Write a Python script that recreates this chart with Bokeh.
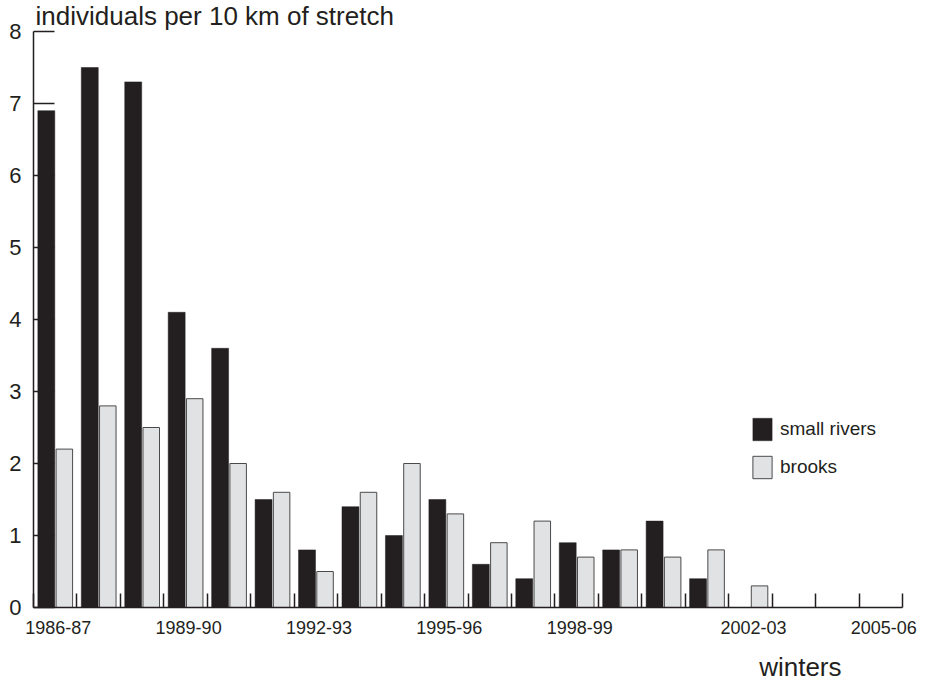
from bokeh.plotting import figure
from bokeh.models import FixedTicker, Legend, LegendItem, Range1d, ColumnDataSource, Title
from bokeh.core.properties import value
from bokeh.embed import file_html
from bokeh.resources import INLINE

# ---- data ----
winters = ["1986-87", "1987-88", "1988-89", "1989-90", "1990-91", "1991-92", "1992-93",
           "1993-94", "1994-95", "1995-96", "1996-97", "1997-98", "1998-99", "1999-00",
           "2000-01", "2001-02", "2002-03", "2003-04", "2004-05", "2005-06"]
small_rivers = [6.9, 7.5, 7.3, 4.1, 3.6, 1.5, 0.8, 1.4, 1.0, 1.5,
                0.6, 0.4, 0.9, 0.8, 1.2, 0.4, 0.0, 0.0, 0.0, 0.0]
brooks = [2.2, 2.8, 2.5, 2.9, 2.0, 1.6, 0.5, 1.6, 2.0, 1.3,
          0.9, 1.2, 0.7, 0.8, 0.7, 0.8, 0.3, 0.0, 0.0, 0.0]
labeled_winters = ["1986-87", "1989-90", "1992-93", "1995-96", "1998-99", "2002-03", "2005-06"]
y_ticks = [0, 1, 2, 3, 4, 5, 6, 7, 8]
y_max = 8

series_names = ["small rivers", "brooks"]
y_title = "individuals per 10 km of stretch"
x_title = "winters"

# ---- styling ----
FONT = "Liberation Sans"
INK = "#231f20"
BLACK_FILL = "#231f20"
GRAY_FILL = "#e1e2e4"
GRAY_LINE = "#4a4a4a"

n = len(winters)
idx = list(range(n))

# frame spans the full height above the x axis; the y axis itself stops at y_max
FRAME_H = 607            # px from canvas top to the x axis
AXIS_H = 576             # px used by 0..y_max
y_top = y_max * FRAME_H / AXIS_H

src = ColumnDataSource(dict(
    x_black=[i + 0.295 for i in idx],
    x_gray=[i + 0.71 for i in idx],
    small=small_rivers,
    brooks=brooks,
    winter=winters,
))

p = figure(width=925, height=681, output_backend="svg", toolbar_location=None,
           x_range=Range1d(0, n), y_range=Range1d(0, y_top),
           min_border_left=33, min_border_right=23, min_border_top=0, min_border_bottom=74)
p.outline_line_color = None
p.xgrid.visible = False
p.ygrid.visible = False
p.background_fill_color = "white"

r_black = p.vbar(x="x_black", top="small", width=0.39, bottom=0, source=src,
                 fill_color=BLACK_FILL, line_color=BLACK_FILL, line_width=0.5)
r_gray = p.vbar(x="x_gray", top="brooks", width=0.38, bottom=0, source=src,
                fill_color=GRAY_FILL, line_color=GRAY_LINE, line_width=1)

# x axis: minor ticks at group boundaries, labels at selected group centres
label_pos = [winters.index(w) + 0.57 for w in labeled_winters]
xax = p.xaxis[0]
xax.ticker = FixedTicker(ticks=label_pos, minor_ticks=list(range(n + 1)))
xax.major_label_overrides = {pos: w for pos, w in zip(label_pos, labeled_winters)}
xax.major_tick_in = 0
xax.major_tick_out = 0
xax.minor_tick_in = 14
xax.minor_tick_out = 0
xax.minor_tick_line_color = INK
xax.minor_tick_line_width = 1.5
xax.axis_line_color = INK
xax.axis_line_width = 1.5
xax.major_label_text_font = FONT
xax.major_label_text_font_size = "18px"
xax.major_label_text_color = INK
xax.major_label_standoff = 13
# blank spacer label to push the right-aligned "winters" title slightly lower
xax.axis_label = " "
xax.axis_label_text_font_size = "1px"
xax.axis_label_standoff = 9

yax = p.yaxis[0]
yax.bounds = (0, y_max)
yax.ticker = FixedTicker(ticks=y_ticks)
yax.major_tick_in = 21
yax.major_tick_out = 0
yax.minor_tick_line_color = None
yax.major_tick_line_color = INK
yax.major_tick_line_width = 1.5
yax.axis_line_color = INK
yax.axis_line_width = 1.5
yax.major_label_text_font = FONT
yax.major_label_text_font_size = "22px"
yax.major_label_text_color = INK
yax.major_label_standoff = 12

# y title at the top left, above the end of the y axis (text glyph, screen offsets: +y is down)
title_src = ColumnDataSource(dict(x=[0], y=[y_max], t=[y_title]))
p.text(x="x", y="y", text="t", source=title_src, x_offset=2, y_offset=-16,
       text_font=value(FONT), text_font_size=value("26px"), text_color=INK,
       text_baseline="middle", text_align="left")

# x title below the axis, right side
p.add_layout(Title(text=x_title, align="right", offset=61, standoff=0,
                   text_font=FONT, text_font_size="26px", text_font_style="normal",
                   text_color=INK), "below")

legend = Legend(items=[LegendItem(label=series_names[0], renderers=[r_black]),
                       LegendItem(label=series_names[1], renderers=[r_gray])],
                location=(717, 126), glyph_width=24, glyph_height=28,
                label_text_font=FONT, label_text_font_size="19px", label_text_color=INK,
                spacing=10, padding=0, margin=0, label_standoff=6,
                border_line_color=None, background_fill_alpha=0)
p.add_layout(legend)

open("out.html", "w").write(file_html(p, INLINE))
